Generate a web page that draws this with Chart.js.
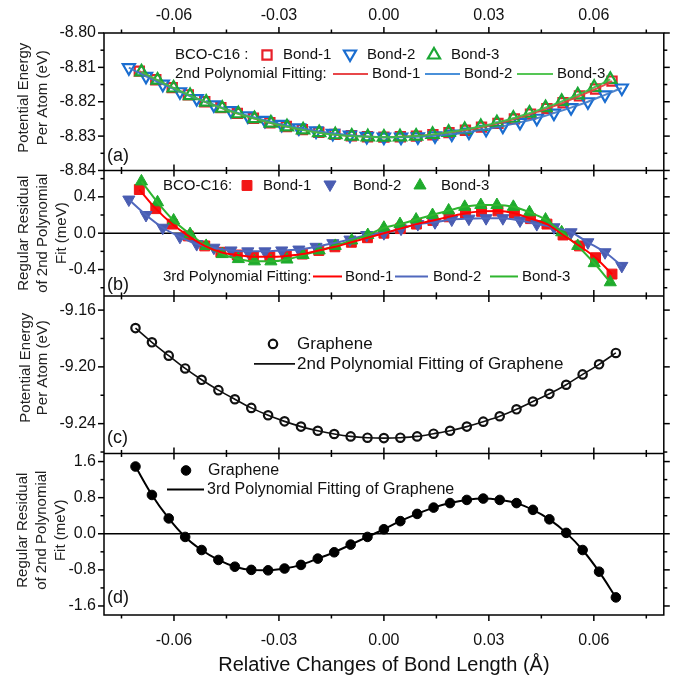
<!DOCTYPE html>
<html>
<head>
<meta charset="utf-8">
<script src="https://cdn.jsdelivr.net/npm/chart.js@4.4.1/dist/chart.umd.min.js"></script>
<style>
  html, body { margin: 0; padding: 0; background: #fff; }
  #wrap { width: 673px; height: 677px; }
</style>
</head>
<body>
<div id="wrap"><canvas id="bondChart" width="673" height="677"></canvas></div>
<script>
// relative change of bond length (Å) for each series
const bond1X = [-0.0699, -0.0652, -0.0605, -0.0559, -0.0512, -0.0466, -0.0419, -0.0373, -0.0326, -0.0279,
  -0.0233, -0.0186, -0.0140, -0.0093, -0.0047, 0, 0.0047, 0.0093, 0.0140, 0.0186,
  0.0233, 0.0279, 0.0326, 0.0373, 0.0419, 0.0466, 0.0512, 0.0559, 0.0605, 0.0652];
const bond2X = [-0.0729, -0.0680, -0.0632, -0.0583, -0.0535, -0.0486, -0.0437, -0.0389, -0.0340, -0.0292,
  -0.0243, -0.0194, -0.0146, -0.0097, -0.0049, 0, 0.0049, 0.0097, 0.0146, 0.0194,
  0.0243, 0.0292, 0.0340, 0.0389, 0.0437, 0.0486, 0.0535, 0.0583, 0.0632, 0.0680];
const bond3X = [-0.0693, -0.0647, -0.0601, -0.0554, -0.0508, -0.0462, -0.0416, -0.0370, -0.0323, -0.0277,
  -0.0231, -0.0185, -0.0139, -0.0092, -0.0046, 0, 0.0046, 0.0092, 0.0139, 0.0185,
  0.0231, 0.0277, 0.0323, 0.0370, 0.0416, 0.0462, 0.0508, 0.0554, 0.0601, 0.0647];
const grapheneX = [-0.0710, -0.0663, -0.0615, -0.0568, -0.0521, -0.0473, -0.0426, -0.0379, -0.0331, -0.0284,
  -0.0237, -0.0189, -0.0142, -0.0095, -0.0047, 0, 0.0047, 0.0095, 0.0142, 0.0189,
  0.0237, 0.0284, 0.0331, 0.0379, 0.0426, 0.0473, 0.0521, 0.0568, 0.0615, 0.0663];

// (a) potential energy per atom, eV
const bond1E = [-8.8111, -8.8136, -8.8159, -8.8180, -8.8200, -8.8217, -8.8234, -8.8248, -8.8261, -8.8272,
  -8.8281, -8.8289, -8.8295, -8.8299, -8.8302, -8.8303, -8.8302, -8.8300, -8.8296, -8.8290,
  -8.8283, -8.8274, -8.8263, -8.8250, -8.8236, -8.8220, -8.8203, -8.8183, -8.8163, -8.8140];
const bond2E = [-8.8101, -8.8126, -8.8149, -8.8171, -8.8191, -8.8209, -8.8226, -8.8241, -8.8254, -8.8266,
  -8.8276, -8.8285, -8.8292, -8.8297, -8.8301, -8.8303, -8.8303, -8.8302, -8.8299, -8.8294,
  -8.8288, -8.8280, -8.8271, -8.8260, -8.8248, -8.8233, -8.8217, -8.8200, -8.8180, -8.8160];
const bond3E = [-8.8113, -8.8137, -8.8160, -8.8182, -8.8201, -8.8219, -8.8235, -8.8249, -8.8262, -8.8273,
  -8.8282, -8.8290, -8.8296, -8.8300, -8.8302, -8.8303, -8.8302, -8.8300, -8.8295, -8.8289,
  -8.8281, -8.8272, -8.8261, -8.8248, -8.8233, -8.8217, -8.8199, -8.8180, -8.8158, -8.8135];

// (b) residual of the 2nd order fit, meV
const bond1Res = [0.48, 0.27, 0.10, -0.03, -0.14, -0.21, -0.24, -0.26, -0.26, -0.25,
  -0.23, -0.19, -0.15, -0.10, -0.05, 0.00, 0.05, 0.10, 0.14, 0.18,
  0.22, 0.24, 0.245, 0.22, 0.16, 0.10, -0.02, -0.14, -0.27, -0.45];
const bond2Res = [0.37, 0.20, 0.06, -0.04, -0.12, -0.16, -0.19, -0.20, -0.20, -0.19,
  -0.18, -0.15, -0.11, -0.07, -0.02, 0.00, 0.05, 0.10, 0.12, 0.15,
  0.16, 0.165, 0.165, 0.14, 0.10, 0.065, 0.01, -0.10, -0.21, -0.36];
const bond3Res = [0.57, 0.34, 0.14, -0.01, -0.14, -0.23, -0.285, -0.31, -0.31, -0.29,
  -0.24, -0.19, -0.14, -0.08, -0.02, 0.06, 0.10, 0.15, 0.20, 0.25,
  0.29, 0.31, 0.31, 0.29, 0.23, 0.15, 0.01, -0.14, -0.33, -0.54];

// (c) graphene energy, eV and (d) graphene residual, meV
const grapheneE = [-9.1727, -9.1827, -9.1921, -9.2011, -9.2091, -9.2164, -9.2228, -9.2289, -9.2341, -9.2384,
  -9.2421, -9.2450, -9.2473, -9.2490, -9.2499, -9.2502, -9.2499, -9.2490, -9.2471, -9.2450,
  -9.2421, -9.2386, -9.2348, -9.2299, -9.2244, -9.2190, -9.2126, -9.2053, -9.1982, -9.1902];
const grapheneRes = [1.49, 0.86, 0.34, -0.07, -0.36, -0.58, -0.73, -0.80, -0.81, -0.77,
  -0.69, -0.55, -0.41, -0.24, -0.07, 0.10, 0.28, 0.44, 0.58, 0.68,
  0.75, 0.78, 0.75, 0.68, 0.53, 0.32, 0.02, -0.36, -0.84, -1.41];

// axis ranges: [min, max, minor step, label step, decimals]
const xAxisRange = [-0.08, 0.08, 0.015, 0.03, 2];
const panelA = [-8.84, -8.80, 0.005, 0.01, 2];
const panelB = [-0.69, 0.69, 0.2, 0.4, 1];
const panelC = [-9.261, -9.150, 0.02, 0.04, 2];
const panelD = [-1.8, 1.78, 0.4, 0.8, 1];

const FONT = "'Liberation Sans', Arial, Helvetica, sans-serif";
Chart.defaults.font.family = FONT;
Chart.defaults.color = "#111";

const pts = (xs, ys) => xs.map((x, i) => ({ x: x, y: ys[i] }));

const isMajor = (v, step) => Math.abs(v / step - Math.round(v / step)) < 1e-6;
const labelFor = (step, digits) => (v) => {
  if (!isMajor(v, step)) return "";
  if (Math.abs(v) < 1e-9) return (0).toFixed(digits);
  return v.toFixed(digits);
};

const xScale = (pos, showLabels) => ({
  type: "linear",
  position: pos,
  min: xAxisRange[0],
  max: xAxisRange[1],
  grid: { display: false, drawTicks: false },
  border: { display: false },
  ticks: {
    display: showLabels,
    stepSize: xAxisRange[2],
    autoSkip: false,
    maxRotation: 0,
    maxTicksLimit: 100,
    includeBounds: false,
    padding: pos === "top" ? 8 : 16,
    font: { size: 16 },
    callback: labelFor(xAxisRange[3], xAxisRange[4]),
  },
});

const yScale = (range, stackWeight, weight) => ({
  type: "linear",
  position: "left",
  stack: "panels",
  stackWeight: stackWeight,
  weight: weight,
  min: range[0],
  max: range[1],
  grid: { display: false, drawTicks: false },
  border: { display: false },
  ticks: {
    stepSize: range[2],
    autoSkip: false,
    maxTicksLimit: 100,
    includeBounds: false,
    padding: 8,
    font: { size: 16 },
    callback: labelFor(range[3], range[4]),
  },
  afterFit: (s) => { s.width = 104; },
});

// styles
const red1 = "#e8202a", blue1 = "#1a6dd0", green1 = "#1ba735";
const red2 = "#f21616", blue2 = "#4a5db2", green2 = "#1fab2c";

const markerSet = (label, data, yId, style, color, radius, filled, rot) => ({
  label: label,
  data: data,
  xAxisID: "x",
  yAxisID: yId,
  showLine: false,
  pointStyle: style,
  pointRadius: radius,
  pointRotation: rot || 0,
  borderColor: color,
  backgroundColor: filled ? color : "rgba(255,255,255,0)",
  pointBorderWidth: filled ? 1 : 2.2,
});

const fitSet = (label, data, yId, color, width) => ({
  label: label,
  data: data,
  xAxisID: "x",
  yAxisID: yId,
  showLine: true,
  pointRadius: 0,
  borderColor: color,
  backgroundColor: color,
  borderWidth: width,
  cubicInterpolationMode: "monotone",
});

const datasets = [
  // (a)
  fitSet("Fit Bond-3", pts(bond3X, bond3E), "ya", "rgba(60,190,70,0.9)", 2),
  fitSet("Fit Bond-2", pts(bond2X, bond2E), "ya", "rgba(60,120,200,0.9)", 2),
  fitSet("Fit Bond-1", pts(bond1X, bond1E), "ya", "rgba(230,60,60,0.9)", 2),
  markerSet("Bond-3", pts(bond3X, bond3E), "ya", "triangle", green1, 7, false),
  markerSet("Bond-2", pts(bond2X, bond2E), "ya", "triangle", blue1, 7, false, 180),
  markerSet("Bond-1", pts(bond1X, bond1E), "ya", "rect", red1, 6.5, false),
  // (b)
  fitSet("3rd Bond-1", pts(bond1X, bond1Res), "yb", "#ff0000", 2),
  fitSet("3rd Bond-3", pts(bond3X, bond3Res), "yb", "#2fb52f", 2),
  fitSet("3rd Bond-2", pts(bond2X, bond2Res), "yb", "#5068bd", 2),
  markerSet("Res Bond-3", pts(bond3X, bond3Res), "yb", "triangle", green2, 7, true),
  markerSet("Res Bond-2", pts(bond2X, bond2Res), "yb", "triangle", blue2, 7, true, 180),
  markerSet("Res Bond-1", pts(bond1X, bond1Res), "yb", "rect", red2, 7, true),
  // (c)
  markerSet("Graphene", pts(grapheneX, grapheneE), "yc", "circle", "#111", 4.2, false),
  fitSet("2nd Fit Graphene", pts(grapheneX, grapheneE), "yc", "#111", 1.6),
  // (d)
  markerSet("Graphene Res", pts(grapheneX, grapheneRes), "yd", "circle", "#000", 4.8, true),
  fitSet("3rd Fit Graphene", pts(grapheneX, grapheneRes), "yd", "#000", 2),
];

const panelIds = ["ya", "yb", "yc", "yd"];
const panelLabelStep = { ya: panelA[3], yb: panelB[3], yc: panelC[3], yd: panelD[3] };

const drawMark = (ctx, ds, x, y) => {
  ctx.save();
  ctx.strokeStyle = ds.borderColor;
  ctx.fillStyle = ds.backgroundColor;
  ctx.lineWidth = ds.pointBorderWidth;
  Chart.helpers.drawPoint(ctx, {
    pointStyle: ds.pointStyle,
    radius: ds.pointRadius,
    rotation: ds.pointRotation,
    borderWidth: ds.pointBorderWidth,
  }, x, y);
  ctx.restore();
};

const panelDecor = {
  id: "panelDecor",
  beforeDatasetsDraw(chart) {
    const { ctx, chartArea: a, scales } = chart;
    ctx.save();
    ctx.strokeStyle = "#000";
    ctx.lineWidth = 1.5;
    ["yb", "yd"].forEach((id) => {
      const y = scales[id].getPixelForValue(0);
      ctx.beginPath();
      ctx.moveTo(a.left, y);
      ctx.lineTo(a.right, y);
      ctx.stroke();
    });
    ctx.restore();
  },
  afterDraw(chart) {
    const { ctx, chartArea: a, scales } = chart;
    const panels = panelIds.map((id) => scales[id]);
    const line = (x1, y1, x2, y2) => {
      ctx.beginPath();
      ctx.moveTo(x1, y1);
      ctx.lineTo(x2, y2);
      ctx.stroke();
    };
    ctx.save();
    ctx.strokeStyle = "#000";
    ctx.lineWidth = 1.5;
    ctx.strokeRect(a.left, a.top, a.right - a.left, a.bottom - a.top);
    panels.slice(0, 3).forEach((s) => line(a.left, s.bottom, a.right, s.bottom));

    // x ticks on every panel edge
    const xs = scales.x;
    const edges = [a.top].concat(panels.slice(0, 3).map((s) => s.bottom), [a.bottom]);
    xs.ticks.forEach((t) => {
      const px = xs.getPixelForValue(t.value);
      const len = isMajor(t.value, xAxisRange[3]) ? 6 : 3.5;
      edges.forEach((ey, i) => {
        const up = i === edges.length - 1 ? 0 : len;
        const down = i === 0 ? 0 : len;
        line(px, ey - up, px, ey + down);
      });
    });
    // y ticks, left and right
    panels.forEach((s, k) => {
      s.ticks.forEach((t) => {
        const py = s.getPixelForValue(t.value);
        const len = isMajor(t.value, panelLabelStep[panelIds[k]]) ? 6 : 3.5;
        line(a.left - len, py, a.left, py);
        line(a.right, py, a.right + len, py);
      });
    });

    // y axis titles
    ctx.fillStyle = "#222";
    ctx.textAlign = "center";
    ctx.textBaseline = "middle";
    const yTitle = (s, lines, xs2, dy, size) => {
      const yc = (s.top + s.bottom) / 2 + dy;
      ctx.font = size + "px " + FONT;
      lines.forEach((txt, i) => {
        ctx.save();
        ctx.translate(xs2[i], yc);
        ctx.rotate(-Math.PI / 2);
        ctx.fillText(txt, 0, 0);
        ctx.restore();
      });
    };
    yTitle(panels[0], ["Potential Energy", "Per Atom (eV)"], [24, 43], -4, 15);
    yTitle(panels[1], ["Regular Residual", "of 2nd Polynomial", "Fit (meV)"], [24, 43, 62], 0, 15);
    yTitle(panels[2], ["Potential Energy", "Per Atom (eV)"], [26, 43], -7, 15);
    yTitle(panels[3], ["Regular Residual", "of 2nd Polynomial", "Fit (meV)"], [23, 42, 61], -4, 15);

    // legends and panel letters
    ctx.textAlign = "left";
    ctx.fillStyle = "#111";
    const text = (str, x, y, size) => {
      ctx.font = size + "px " + FONT;
      ctx.fillText(str, x, y);
    };
    const seg = (color, width, x1, x2, y) => {
      ctx.save();
      ctx.strokeStyle = color;
      ctx.lineWidth = width;
      line(x1, y, x2, y);
      ctx.restore();
    };
    const ds = chart.data.datasets;
    const byLabel = (l) => ds.find((d) => d.label === l);

    // (a)
    let t0 = panels[0].top;
    text("BCO-C16 :", 175, t0 + 22, 15);
    drawMark(ctx, byLabel("Bond-1"), 267, t0 + 22);
    text("Bond-1", 283, t0 + 22, 15);
    drawMark(ctx, byLabel("Bond-2"), 350, t0 + 21);
    text("Bond-2", 367, t0 + 22, 15);
    drawMark(ctx, byLabel("Bond-3"), 434, t0 + 22);
    text("Bond-3", 451, t0 + 22, 15);
    text("2nd Polynomial Fitting:", 175, t0 + 41, 15);
    seg("#e8474a", 2, 333, 368, t0 + 41);
    text("Bond-1", 372, t0 + 41, 15);
    seg("#4a90d9", 2, 425, 460, t0 + 41);
    text("Bond-2", 464, t0 + 41, 15);
    seg("#55c655", 2, 517, 553, t0 + 41);
    text("Bond-3", 557, t0 + 41, 15);
    text("(a)", 107, t0 + 123, 18);

    // (b)
    t0 = panels[1].top;
    text("BCO-C16:", 163, t0 + 15, 15);
    drawMark(ctx, byLabel("Res Bond-1"), 247, t0 + 15);
    text("Bond-1", 263, t0 + 15, 15);
    drawMark(ctx, byLabel("Res Bond-2"), 330, t0 + 14);
    text("Bond-2", 353, t0 + 15, 15);
    drawMark(ctx, byLabel("Res Bond-3"), 420, t0 + 15);
    text("Bond-3", 441, t0 + 15, 15);
    text("3rd Polynomial Fitting:", 163, t0 + 106, 15);
    seg("#ff0000", 2, 313, 342, t0 + 106);
    text("Bond-1", 345, t0 + 106, 15);
    seg("#5068bd", 2, 395, 428, t0 + 106);
    text("Bond-2", 433, t0 + 106, 15);
    seg("#2fb52f", 2, 490, 518, t0 + 106);
    text("Bond-3", 522, t0 + 106, 15);
    text("(b)", 107, t0 + 115, 18);

    // (c)
    t0 = panels[2].top;
    drawMark(ctx, byLabel("Graphene"), 273, t0 + 48);
    text("Graphene", 297, t0 + 48, 17);
    seg("#111", 1.6, 254, 295, t0 + 68);
    text("2nd Polynomial Fitting of Graphene", 297, t0 + 68, 17);
    text("(c)", 107, t0 + 142, 18);

    // (d)
    t0 = panels[3].top;
    drawMark(ctx, byLabel("Graphene Res"), 186, t0 + 17);
    text("Graphene", 208, t0 + 17, 16);
    seg("#000", 2, 167, 204, t0 + 36);
    text("3rd Polynomial Fitting of Graphene", 207, t0 + 36, 16);
    text("(d)", 107, t0 + 145, 18);
    ctx.restore();
  },
};

const xBottom = xScale("bottom", true);
xBottom.title = {
  display: true,
  text: "Relative Changes of Bond Length (Å)",
  font: { size: 20 },
  color: "#111",
  padding: { top: 0, bottom: 0 },
};
xBottom.afterFit = (s) => { s.height = 62; };
const xTop = xScale("top", true);
xTop.afterFit = (s) => { s.height = 33; };

new Chart(document.getElementById("bondChart"), {
  type: "scatter",
  data: { datasets: datasets },
  options: {
    responsive: false,
    animation: false,
    events: [],
    layout: { padding: { left: 0, right: 8, top: 0, bottom: 0 } },
    plugins: { legend: { display: false }, tooltip: { enabled: false } },
    scales: {
      x: xBottom,
      xt: xTop,
      ya: yScale(panelA, 137, 4),
      yb: yScale(panelB, 125, 3),
      yc: yScale(panelC, 157, 2),
      yd: yScale(panelD, 161, 1),
    },
  },
  plugins: [panelDecor],
});
</script>
</body>
</html>
